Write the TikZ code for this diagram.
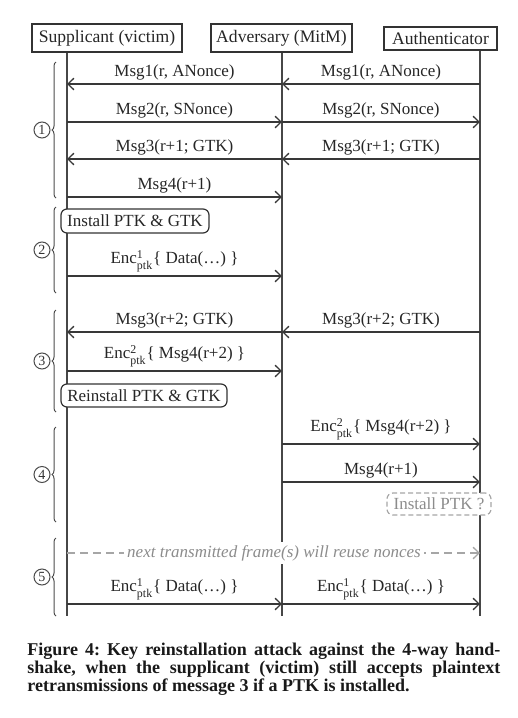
\documentclass[tikz,border=0pt]{standalone}
\usepackage{fontspec}
\usepackage{amsmath}
\setmainfont{Liberation Serif}
\usetikzlibrary{arrows.meta,decorations.pathreplacing}
\begin{document}
\frenchspacing
\begin{tikzpicture}[x=0.5pt,y=-0.5pt,
  life/.style={draw=black!72,line width=0.65pt},
  msg/.style={draw=black!78,line width=0.65pt,-{Straight Barb[length=3pt,width=5.8pt]}},
  lbl/.style={anchor=south,inner sep=0pt,yshift=1.8pt,text=black!85,font=\fontsize{8.5}{10}\selectfont},
  actor/.style={draw=black!80,line width=0.65pt,fill=white,inner sep=0pt,text=black!85,font=\fontsize{8.8}{10}\selectfont},
  statebox/.style={draw=black!80,line width=0.6pt,rounded corners=3pt,fill=white,inner sep=0pt,text=black!85,font=\fontsize{8.5}{10}\selectfont},
  maybebox/.style={draw=black!35,line width=0.6pt,dash pattern=on 2.5pt off 1.5pt,rounded corners=3pt,fill=white,inner sep=0pt,text=black!45,font=\fontsize{8.5}{10}\selectfont},
  phase/.style={decorate,decoration={brace,amplitude=2pt,aspect=0.5},draw=black!70,line width=0.5pt},
  num/.style={circle,draw=black!70,line width=0.5pt,inner sep=0pt,minimum size=8pt,text=black!80,font=\fontsize{7}{8}\selectfont},
  captext/.style={anchor=base west,inner sep=0pt,text=black!90,font=\fontsize{9}{10}\selectfont\bfseries}
]
\useasboundingbox (0,0) rectangle (518,718);
% actors
\node[actor,minimum width=75pt,minimum height=14pt] (sup) at (107,38) {Supplicant (victim)};
\node[actor,minimum width=70.5pt,minimum height=14pt] (adv) at (281.5,38) {Adversary (MitM)};
\node[actor,minimum width=56.5pt,minimum height=11.5pt] (aut) at (440.5,38.5) {Authenticator};
% lifelines
\coordinate (supE) at (67,616);
\coordinate (advE) at (282,616);
\coordinate (autE) at (480,616);
\draw[life] (sup.south -| supE) -- (supE);
\draw[life] (adv.south -| advE) -- (advE);
\draw[life] (aut.south -| autE) -- (autE);
% row coordinates
\foreach \n/\y in {1/84,2/122,3/159,4/197,5/276,6/332,7/371,8/444,9/482,10/553,11/604}{
  \coordinate (S\n) at (67,\y);
  \coordinate (M\n) at (282,\y);
  \coordinate (R\n) at (480,\y);
}
% phase 1
\draw[msg] (R1) -- node[lbl] {Msg1(r, ANonce)} (M1);
\draw[msg] (M1) -- node[lbl] {Msg1(r, ANonce)} (S1);
\draw[msg] (S2) -- node[lbl] {Msg2(r, SNonce)} (M2);
\draw[msg] (M2) -- node[lbl] {Msg2(r, SNonce)} (R2);
\draw[msg] (R3) -- node[lbl] {Msg3(r+1; GTK)} (M3);
\draw[msg] (M3) -- node[lbl] {Msg3(r+1; GTK)} (S3);
\draw[msg] (S4) -- node[lbl] {Msg4(r+1)} (M4);
% phase 2
\node[statebox,minimum width=74pt,minimum height=12pt] (inst) at (135,221) {Install PTK \& GTK};
\draw[msg] (S5) -- node[lbl] {Enc$^{\text{1}}_{\text{ptk}}$\{ Data(\ldots) \}} (M5);
% phase 3
\draw[msg] (R6) -- node[lbl] {Msg3(r+2; GTK)} (M6);
\draw[msg] (M6) -- node[lbl] {Msg3(r+2; GTK)} (S6);
\draw[msg] (S7) -- node[lbl] {Enc$^{\text{2}}_{\text{ptk}}$\{ Msg4(r+2) \}} (M7);
\node[statebox,minimum width=83pt,minimum height=11.5pt] (reinst) at (144,395.5) {Reinstall PTK \& GTK};
% phase 4
\draw[msg] (M8) -- node[lbl] {Enc$^{\text{2}}_{\text{ptk}}$\{ Msg4(r+2) \}} (R8);
\draw[msg] (M9) -- node[lbl] {Msg4(r+1)} (R9);
\node[maybebox,minimum width=52pt,minimum height=11pt] (maybe) at (439,504) {Install PTK ?};
% phase 5
\draw[msg,draw=black!35,dash pattern=on 4pt off 2.5pt] (S10) -- (R10);
\node[fill=white,inner sep=1.5pt,text=black!45,font=\fontsize{8.5}{10}\selectfont\itshape] (reuse) at (274,553) {next transmitted frame(s) will reuse nonces};
\draw[msg] (S11) -- node[lbl] {Enc$^{\text{1}}_{\text{ptk}}$\{ Data(\ldots) \}} (M11);
\draw[msg] (M11) -- node[lbl] {Enc$^{\text{1}}_{\text{ptk}}$\{ Data(\ldots) \}} (R11);
% braces and phase numbers
\draw[phase] (56,198) -- (56,62);
\draw[phase] (56,293) -- (56,207);
\draw[phase] (56,412) -- (56,310);
\draw[phase] (56,522) -- (56,427);
\draw[phase] (56,616) -- (56,538);
\node[num] (p1) at (42,130) {1};
\node[num] (p2) at (42,250) {2};
\node[num] (p3) at (42,361) {3};
\node[num] (p4) at (42,474.5) {4};
\node[num] (p5) at (42,577) {5};
% caption
\node[captext] (cap1) at (27,655) {\makebox[236.5pt][s]{Figure 4: Key reinstallation attack against the 4-way hand-}};
\node[captext] (cap2) at (27,673) {\makebox[236.5pt][s]{shake, when the supplicant (victim) still accepts plaintext}};
\node[captext] (cap3) at (27,691) {retransmissions of message 3 if a PTK is installed.};
\end{tikzpicture}
\end{document}
